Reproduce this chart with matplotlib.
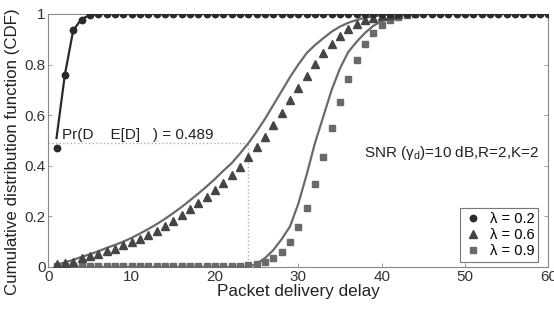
import matplotlib
matplotlib.use("Agg")
import matplotlib.pyplot as plt
from matplotlib.lines import Line2D

plt.rcParams['font.family'] = ['Liberation Sans', 'DejaVu Sans']

# ---- data ----
x_circ = list(range(1, 61))
y_circ = [0.47, 0.76, 0.935, 0.975, 0.995] + [1.0] * 55

x_line02 = [1, 2, 3, 4, 5, 6, 60]
y_line02 = [0.51, 0.76, 0.935, 0.98, 0.995, 1.0, 1.0]

x_tri = list(range(1, 43))
y_tri = [0.01, 0.015, 0.02, 0.035, 0.043, 0.051, 0.062, 0.072, 0.086, 0.098,
         0.112, 0.126, 0.143, 0.162, 0.183, 0.205, 0.228, 0.252, 0.277, 0.304,
         0.333, 0.365, 0.396, 0.434, 0.473, 0.515, 0.561, 0.61, 0.66, 0.709,
         0.755, 0.802, 0.845, 0.881, 0.913, 0.94, 0.959, 0.976, 0.985, 0.99,
         0.995, 1.0]

x_line06 = list(range(1, 42)) + [60]
y_line06 = [0.008, 0.018, 0.028, 0.04, 0.05, 0.062, 0.075, 0.087, 0.1, 0.115,
            0.132, 0.15, 0.169, 0.19, 0.213, 0.237, 0.263, 0.29, 0.318, 0.348,
            0.38, 0.41, 0.448, 0.489, 0.535, 0.585, 0.64, 0.695, 0.75, 0.80,
            0.845, 0.877, 0.904, 0.93, 0.95, 0.965, 0.976, 0.985, 0.99, 0.995,
            1.0, 1.0]

x_sq = list(range(1, 45))
y_sq = [0.004] * 23 + [0.008, 0.01, 0.018, 0.034, 0.058, 0.098, 0.157, 0.234,
        0.328, 0.434, 0.548, 0.65, 0.743, 0.818, 0.881, 0.926, 0.957, 0.976,
        0.989, 0.995, 1.0]

x_line09 = [1, 24, 25, 26, 27, 28, 29, 30, 31, 32, 33, 34, 35, 36, 37, 38, 39,
            40, 41, 42, 43, 44, 60]
y_line09 = [0.0, 0.0, 0.012, 0.035, 0.067, 0.11, 0.16, 0.25, 0.365, 0.49,
            0.595, 0.70, 0.785, 0.85, 0.89, 0.925, 0.953, 0.972, 0.983, 0.99,
            0.996, 1.0, 1.0]

labels = ['λ = 0.2', 'λ = 0.6', 'λ = 0.9']
mean_delay = 24
cdf_at_mean = 0.489

xticks = [0, 10, 20, 30, 40, 50, 60]
yticks = [0, 0.2, 0.4, 0.6, 0.8, 1]
ytick_labels = ['0', '0.2', '0.4', '0.6', '0.8', '1']

# ---- figure ----
fig = plt.figure(figsize=(5.54, 3.09), dpi=100)
ax = fig.add_axes([0.087, 0.136, 0.903, 0.819])

gray_line = '#6a6a6a'
c_circ = '#2a2a2a'
c_tri = '#454545'
c_sq = '#6a6a6a'

# dotted guide lines
ax.plot([0, mean_delay], [cdf_at_mean, cdf_at_mean], ls=':', color='#b0b0b0', lw=1.0, zorder=1)
ax.plot([mean_delay, mean_delay], [0, cdf_at_mean], ls=':', color='#b0b0b0', lw=1.0, zorder=1)

ax.plot(x_line09, y_line09, color=gray_line, lw=1.6, zorder=2)
ax.plot(x_line06, y_line06, color=gray_line, lw=1.6, zorder=2)
ax.plot(x_sq, y_sq, ls='none', marker='s', ms=4.2, color=c_sq, mec=c_sq, zorder=3)
ax.plot(x_tri, y_tri, ls='none', marker='^', ms=5.2, color=c_tri, mec=c_tri, zorder=3)
ax.plot(x_line02, y_line02, color=c_circ, lw=1.6, zorder=4)
ax.plot(x_circ, y_circ, ls='none', marker='o', ms=4.6, color=c_circ, mec=c_circ, zorder=5)

ax.set_xlim(0, 60)
ax.set_ylim(0, 1)
ax.set_xticks(xticks)
ax.set_yticks(yticks)
ax.set_yticklabels(ytick_labels)
ax.tick_params(direction='in', length=3, width=0.6, colors='#888888',
               labelcolor='#333333', labelsize=11, top=True, right=True, pad=2)
for s in ax.spines.values():
    s.set_color('#8a8a8a')
    s.set_linewidth(0.8)

ax.set_xlabel('Packet delivery delay', fontsize=12.3, color='#222222', labelpad=0)
ax.set_ylabel('Cumulative distribution function (CDF)', fontsize=12.2, color='#222222')
ax.yaxis.set_label_coords(-0.056, 0.455)

ax.text(1.6, 0.52, 'Pr(D    E[D]   ) = 0.489', fontsize=11, color='#222222',
        ha='left', va='center', zorder=6)
ax.text(58.9, 0.45, r'SNR ($\mathregular{\gamma_d}$)=10 dB,R=2,K=2', fontsize=11,
        color='#222222', ha='right', va='center')

handles = [Line2D([], [], ls='none', marker='o', ms=4.6, color=c_circ),
           Line2D([], [], ls='none', marker='^', ms=5.2, color=c_tri),
           Line2D([], [], ls='none', marker='s', ms=4.2, color=c_sq)]
leg = ax.legend(handles, labels, loc='lower right', fontsize=10.5, frameon=True,
                fancybox=False, edgecolor='#555555', handlelength=1.2,
                handletextpad=0.6, borderpad=0.25, labelspacing=0.15,
                borderaxespad=0, bbox_to_anchor=(0.98, 0.02))
leg.get_frame().set_linewidth(0.8)

fig.savefig('out.png', dpi=100)
